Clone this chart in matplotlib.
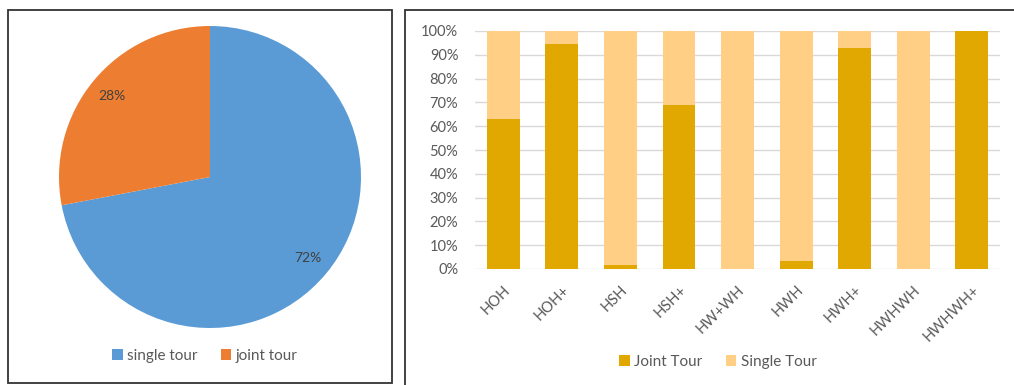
import numpy as np
import matplotlib
matplotlib.use("Agg")
from matplotlib import pyplot as plt
from matplotlib.patches import Rectangle

plt.rcParams['font.family'] = ['Lato', 'DejaVu Sans']

# pie data
pie_labels = ["single tour", "joint tour"]
pie_values = [72, 28]
pie_colors = ["#5B9BD5", "#ED7D31"]

# stacked bar data (percent)
categories = ["HOH", "HOH+", "HSH", "HSH+", "HW+WH", "HWH", "HWH+", "HWHWH", "HWHWH+"]
joint_tour = [63, 94.5, 1.5, 69, 0, 3.5, 93, 0, 100]
single_tour = [37, 5.5, 98.5, 31, 100, 96.5, 7, 100, 0]

fig = plt.figure(figsize=(10.14, 3.85), dpi=100)
W, H = 1014, 385

# panel frames
fig.patches.append(Rectangle((8 / W, 1 - 383 / H), 384 / W, 373 / H, transform=fig.transFigure,
                             fill=False, edgecolor="#333333", linewidth=1.3))
fig.patches.append(Rectangle((405 / W, -0.05), 700 / W, 1.05 - 10 / H, transform=fig.transFigure,
                             fill=False, edgecolor="#333333", linewidth=1.3))

# pie
ax1 = fig.add_axes([59 / W, 1 - 328 / H, 302 / W, 302 / H])
wedges, texts, autotexts = ax1.pie(
    pie_values, colors=pie_colors, startangle=90, counterclock=False,
    autopct=lambda p: '{:.0f}%'.format(p), pctdistance=0.84,
    textprops=dict(color="#404040", fontsize=10))
ax1.set_xlim(-1, 1)
ax1.set_ylim(-1, 1)
ax1.set_aspect("equal")
ax1.legend(wedges, pie_labels, loc="center", bbox_to_anchor=(205 / W, 1 - 356 / H),
           bbox_transform=fig.transFigure, ncol=2, frameon=False, fontsize=11,
           handlelength=0.7, handleheight=0.7, handletextpad=0.3, columnspacing=1.5,
           labelcolor="#595959")

# stacked bars
ax2 = fig.add_axes([475 / W, 1 - 269 / H, 525 / W, 238 / H])
x = np.arange(len(categories))
ax2.bar(x, joint_tour, width=0.56, color="#E0A800", label="Joint Tour", zorder=3)
ax2.bar(x, single_tour, width=0.56, bottom=joint_tour, color="#FFCF85", label="Single Tour", zorder=3)
ax2.set_xlim(-0.48, 8.48)
ax2.set_ylim(0, 100)
ax2.set_yticks(np.arange(0, 101, 10))
ax2.set_yticklabels([f"{v}%" for v in range(0, 101, 10)])
ax2.set_xticks(x)
ax2.set_xticklabels(categories, rotation=45, ha="right", rotation_mode="anchor")
ax2.tick_params(axis="both", length=0, colors="#595959", labelsize=10.5)
ax2.tick_params(axis="y", pad=12)
ax2.tick_params(axis="x", pad=10)
ax2.grid(True, axis="y", color="#D9D9D9", linewidth=1, zorder=0)
for s in ax2.spines.values():
    s.set_visible(False)
ax2.legend(loc="center", bbox_to_anchor=(718 / W, 1 - 362 / H), bbox_transform=fig.transFigure,
           ncol=2, frameon=False, fontsize=11, handlelength=0.7, handleheight=0.7,
           handletextpad=0.3, columnspacing=1.5, labelcolor="#595959")

plt.savefig("out.png", dpi=100)
